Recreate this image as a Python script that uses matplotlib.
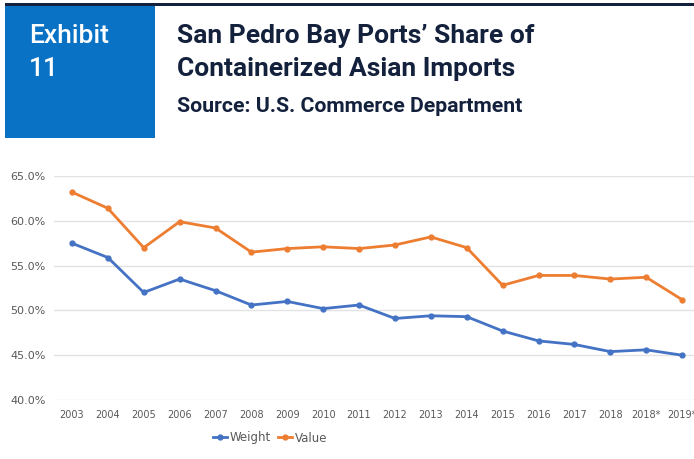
import numpy as np
import matplotlib.pyplot as plt
from matplotlib.patches import Rectangle

# share of containerized Asian imports handled by San Pedro Bay ports (%)
years = ["2003", "2004", "2005", "2006", "2007", "2008", "2009", "2010", "2011",
         "2012", "2013", "2014", "2015", "2016", "2017", "2018", "2018*", "2019*"]
weight = [57.5, 55.9, 52.0, 53.5, 52.2, 50.6, 51.0, 50.2, 50.6,
          49.1, 49.4, 49.3, 47.7, 46.6, 46.2, 45.4, 45.6, 45.0]
value = [63.2, 61.4, 57.0, 59.9, 59.2, 56.5, 56.9, 57.1, 56.9,
         57.3, 58.2, 57.0, 52.8, 53.9, 53.9, 53.5, 53.7, 51.2]
yticks = [40, 45, 50, 55, 60, 65]

W, H = 694, 459
fig = plt.figure(figsize=(W / 100, H / 100), dpi=100)

navy = "#14213d"
# header: dark rule, blue exhibit tag, title and source
fig.add_artist(Rectangle((5 / W, 1 - 6 / H), 1, 3 / H, transform=fig.transFigure,
                         color=navy, lw=0))
fig.add_artist(Rectangle((5 / W, 1 - 138 / H), 150 / W, 132 / H,
                         transform=fig.transFigure, color="#0a72c5", lw=0))
fig.text(29 / W, 1 - 36 / H, "Exhibit", color="white", fontsize=19,
         family="Roboto", weight="medium", va="center")
fig.text(29 / W, 1 - 69 / H, "11", color="white", fontsize=19,
         family="Roboto", weight="medium", va="center")
fig.text(177 / W, 1 - 36 / H, "San Pedro Bay Ports\u2019 Share of", color=navy,
         fontsize=19, family="Roboto", weight="bold", va="center")
fig.text(177 / W, 1 - 69 / H, "Containerized Asian Imports", color=navy,
         fontsize=19, family="Roboto", weight="bold", va="center")
fig.text(177 / W, 1 - 107 / H, "Source: U.S. Commerce Department", color=navy,
         fontsize=15.3, family="Roboto", weight="bold", va="center")

# plot area (right side runs off the figure edge)
ax = fig.add_axes([54 / W, 1 - 400 / H, 646 / W, 224 / H])
x = np.arange(len(years))
ax.plot(x, weight, color="#4472c4", lw=2, marker="o", ms=3.5, label="Weight")
ax.plot(x, value, color="#ed7d31", lw=2, marker="o", ms=3.5, label="Value")

ax.set_xlim(-0.5, len(years) - 0.5)
ax.set_ylim(40, 65)
ax.set_yticks(yticks)
ax.set_yticklabels([f"{v:.1f}%" for v in yticks])
ax.set_xticks(x)
ax.set_xticklabels(years)
ax.grid(axis="y", color="#e3e3e3", lw=1)
ax.set_axisbelow(True)
for s in ax.spines.values():
    s.set_visible(False)
ax.tick_params(length=0, colors="#595959")
ax.tick_params(axis="y", pad=6, labelsize=8)
ax.tick_params(axis="x", pad=7, labelsize=7)
for t in ax.get_xticklabels() + ax.get_yticklabels():
    t.set_family("DejaVu Sans")

leg = fig.legend(loc="center", bbox_to_anchor=(270 / W, 1 - 438 / H), ncol=2,
                 frameon=False, fontsize=8.5, handlelength=1.2, handletextpad=0.2,
                 columnspacing=0.6, labelcolor="#595959")

fig.savefig("out.png", dpi=100)
